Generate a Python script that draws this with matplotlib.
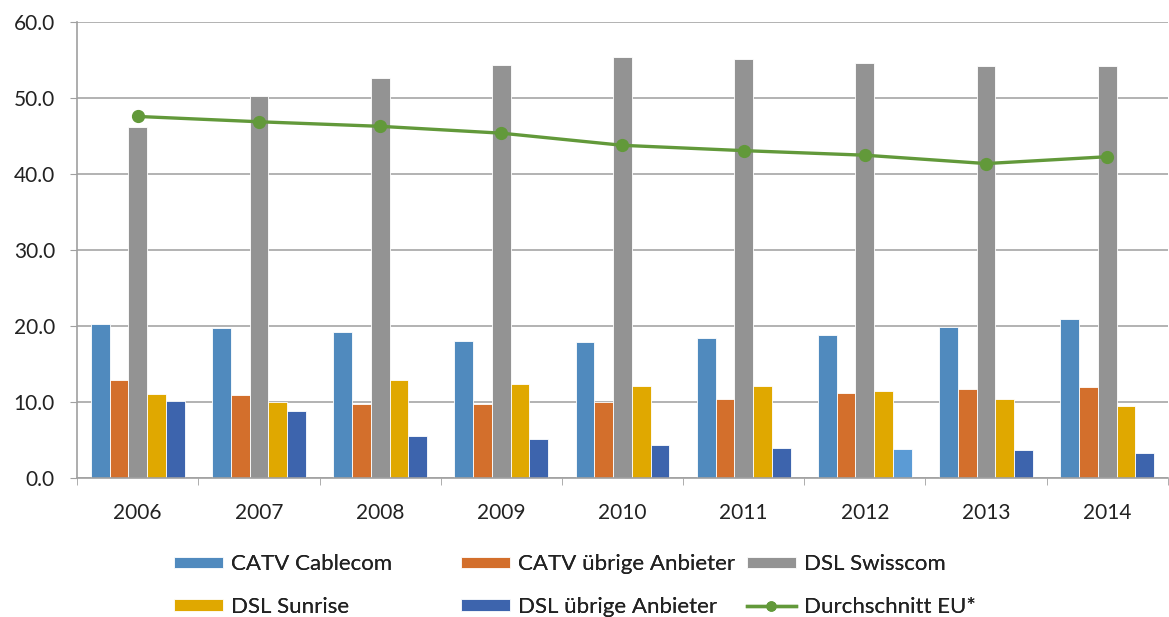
import numpy as np
import matplotlib
matplotlib.use("Agg")
import matplotlib.pyplot as plt
from matplotlib.ticker import FormatStrFormatter

plt.rcParams['font.family'] = ['Lato', 'DejaVu Sans']

years = ["2006", "2007", "2008", "2009", "2010", "2011", "2012", "2013", "2014"]
catv_cablecom = [20.3, 19.7, 19.2, 18.1, 17.9, 18.4, 18.8, 19.9, 21.0]
catv_uebrige = [12.9, 11.0, 9.8, 9.7, 10.0, 10.4, 11.2, 11.7, 12.0]
dsl_swisscom = [46.2, 50.3, 52.7, 54.4, 55.4, 55.2, 54.6, 54.3, 54.3]
dsl_sunrise = [11.1, 10.0, 12.9, 12.4, 12.1, 12.1, 11.5, 10.4, 9.5]
dsl_uebrige = [10.2, 8.9, 5.5, 5.2, 4.4, 4.0, 3.9, 3.7, 3.3]
eu_avg = [47.6, 46.9, 46.3, 45.4, 43.8, 43.1, 42.5, 41.4, 42.3]

labels = ["CATV Cablecom", "CATV übrige Anbieter", "DSL Swisscom",
          "DSL Sunrise", "DSL übrige Anbieter", "Durchschnitt EU*"]
colors = ["#508ABE", "#D36F2C", "#939393", "#E0A800", "#3D64AD"]
# 2012 bar of "DSL übrige Anbieter" is lighter in the original
uebrige_colors = ["#3D64AD"] * 9
uebrige_colors[6] = "#5B9BD5"

fig = plt.figure(figsize=(11.69, 6.17), dpi=100)
ax = fig.add_axes([0.066, 0.225, 0.933, 0.739])

x = np.arange(len(years))
w = 0.155
series = [catv_cablecom, catv_uebrige, dsl_swisscom, dsl_sunrise, dsl_uebrige]
handles = []
for i, vals in enumerate(series):
    c = uebrige_colors if i == 4 else colors[i]
    b = ax.bar(x + (i - 2) * w, vals, width=w, color=c, edgecolor="white",
               linewidth=0.6, zorder=2, label=labels[i])
    if i == 4:
        b.patches[0].set_facecolor(colors[4])
    handles.append(b)

ln, = ax.plot(x, eu_avg, color="#62993A", linewidth=2.4, marker="o",
              markersize=8.5, zorder=3, label=labels[5])
# smaller dot for the legend entry, as in the original
leg_line, = ax.plot([], [], color="#62993A", linewidth=2.4, marker="o",
                    markersize=6.5)
handles.append(leg_line)

ax.set_ylim(0, 60)
ax.set_xlim(-0.5, len(years) - 0.5)
ax.set_yticks(np.arange(0, 61, 10))
ax.yaxis.set_major_formatter(FormatStrFormatter("%.1f"))
ax.set_xticks(x)
ax.set_xticklabels(years)
ax.set_xticks(np.arange(-0.5, len(years)), minor=True)
ax.tick_params(axis="x", which="major", length=0, labelsize=15, pad=18)
ax.tick_params(axis="x", which="minor", length=5, color="#A0A0A0")
ax.tick_params(axis="y", length=5, color="#A0A0A0", labelsize=15, pad=11,
               labelcolor="#222222")
ax.tick_params(axis="x", labelcolor="#222222")
ax.grid(axis="y", color="#A6A6A6", linewidth=1.2, zorder=0)
ax.set_axisbelow(True)
for s in ["top", "right"]:
    ax.spines[s].set_visible(False)
ax.spines["left"].set_color("#A0A0A0")
ax.spines["bottom"].set_color("#A0A0A0")
ax.spines["left"].set_linewidth(1.2)
ax.spines["bottom"].set_linewidth(1.2)

# one legend per column, rows: top entry / bottom entry
col_x = [174 / 1169, 461 / 1169, 747 / 1169]
for col in range(3):
    hs = [handles[col], handles[col + 3]]
    ls = [labels[col], labels[col + 3]]
    leg = fig.legend(hs, ls, loc="center left",
                     bbox_to_anchor=(col_x[col], 1 - 585.5 / 617),
                     frameon=False, fontsize=16, handlelength=2.2,
                     handleheight=0.45, labelspacing=1.0, handletextpad=0.35,
                     borderpad=0, borderaxespad=0)
    for t in leg.get_texts():
        t.set_color("#222222")
    fig.add_artist(leg)

fig.savefig("out.png", dpi=100)
